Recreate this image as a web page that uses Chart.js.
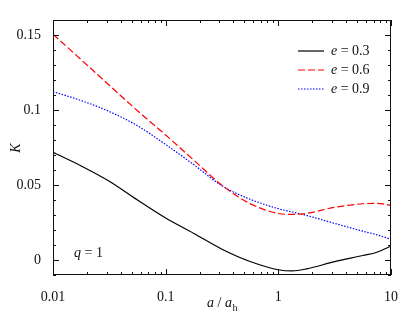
<!DOCTYPE html>
<html>
<head>
<meta charset="utf-8">
<script src="https://cdn.jsdelivr.net/npm/chart.js"></script>
<style>
  html, body { margin: 0; padding: 0; background: #fff; }
  #wrap { width: 407px; height: 317px; }
</style>
</head>
<body>
<div id="wrap"><canvas id="chart" width="407" height="317"></canvas></div>
<script>
// semi-major axis ratio a / a_h (log axis)
const aRatio = [0.01, 0.0178, 0.0316, 0.0562, 0.1, 0.178, 0.316, 0.562, 1, 1.33, 1.78, 3.16, 5.62, 7.5, 10];

// K for each eccentricity
const kE03 = [0.0718, 0.0627, 0.0525, 0.0400, 0.0280, 0.0177, 0.0072, -0.0010, -0.0065, -0.0073, -0.0059, -0.0011, 0.0030, 0.0052, 0.0092];
const kE06 = [0.1505, 0.1335, 0.1165, 0.0995, 0.0833, 0.0665, 0.0498, 0.0376, 0.0310, 0.0304, 0.0311, 0.0351, 0.0375, 0.0378, 0.0364];
const kE09 = [0.1122, 0.1063, 0.0990, 0.0895, 0.0770, 0.0635, 0.0495, 0.0405, 0.0342, 0.0320, 0.0297, 0.0244, 0.0192, 0.0168, 0.0138];

const seriesLabels = ["0.3", "0.6", "0.9"];
const xTicks = [0.01, 0.1, 1, 10];
const xTickLabels = ["0.01", "0.1", "1", "10"];
const yTicks = [0, 0.05, 0.1, 0.15];
const yTickLabels = ["0", "0.05", "0.1", "0.15"];

const serif = "'Liberation Serif', 'DejaVu Serif', serif";

function pts(ys) {
  return aRatio.map((x, i) => ({ x: x, y: ys[i] }));
}

// frame, inward ticks, legend and annotations
const decorations = {
  id: "decorations",
  afterDraw(chart) {
    const ctx = chart.ctx;
    const a = chart.chartArea;
    const xs = chart.scales.x, ys = chart.scales.y;
    ctx.save();
    ctx.strokeStyle = "#111";
    ctx.lineWidth = 1;
    ctx.strokeRect(Math.round(a.left) + 0.5, Math.round(a.top) + 0.5,
      Math.round(a.right - a.left) - 1, Math.round(a.bottom - a.top) - 1);

    ctx.beginPath();
    // x ticks, major and minor
    for (let d = 0.01; d < 10.5; d *= 10) {
      for (let m = 1; m < 10; m++) {
        const v = d * m;
        if (v > 10.0001) break;
        const px = Math.round(xs.getPixelForValue(v)) + 0.5;
        const len = m === 1 ? 6 : 3;
        ctx.moveTo(px, a.bottom); ctx.lineTo(px, a.bottom - len);
        ctx.moveTo(px, a.top); ctx.lineTo(px, a.top + len);
      }
    }
    // y ticks
    for (let i = -1; i <= 16; i++) {
      const v = i / 100;
      const py = Math.round(ys.getPixelForValue(v)) + 0.5;
      const len = i % 5 === 0 ? 6 : 3;
      ctx.moveTo(a.left, py); ctx.lineTo(a.left + len, py);
      ctx.moveTo(a.right, py); ctx.lineTo(a.right - len, py);
    }
    ctx.stroke();

    // legend
    ctx.textBaseline = "middle";
    chart.data.datasets.forEach((ds, i) => {
      const y = 51 + i * 19;
      ctx.beginPath();
      ctx.strokeStyle = ds.borderColor;
      ctx.lineWidth = ds.borderWidth;
      ctx.setLineDash(ds.borderDash || []);
      ctx.moveTo(298, y); ctx.lineTo(324, y);
      ctx.stroke();
      ctx.setLineDash([]);
      ctx.fillStyle = "#111";
      ctx.font = "italic 14px " + serif;
      ctx.fillText("e", 331, y);
      const w = ctx.measureText("e").width;
      ctx.font = "14px " + serif;
      ctx.fillText(" = " + seriesLabels[i], 331 + w, y);
    });

    // q = 1
    ctx.font = "italic 14px " + serif;
    ctx.fillText("q", 74, 253);
    let w = ctx.measureText("q").width;
    ctx.font = "14px " + serif;
    ctx.fillText(" = 1", 74 + w, 253);

    // x title: a / a_h
    ctx.textBaseline = "alphabetic";
    let x0 = 207;
    ctx.font = "italic 14px " + serif;
    ctx.fillText("a", x0, 307);
    x0 += ctx.measureText("a").width;
    ctx.font = "14px " + serif;
    ctx.fillText(" / ", x0, 307);
    x0 += ctx.measureText(" / ").width;
    ctx.font = "italic 14px " + serif;
    ctx.fillText("a", x0, 307);
    x0 += ctx.measureText("a").width;
    ctx.font = "10px " + serif;
    ctx.fillText("h", x0 + 0.5, 311);

    // y title: K
    ctx.translate(16, 148);
    ctx.rotate(-Math.PI / 2);
    ctx.textAlign = "center";
    ctx.textBaseline = "middle";
    ctx.font = "italic 14px " + serif;
    ctx.fillText("K", 0, 0);
    ctx.restore();
  }
};

new Chart(document.getElementById("chart"), {
  type: "line",
  data: {
    datasets: [
      { label: "e = 0.3", data: pts(kE03), borderColor: "#000000", borderWidth: 1.2, cubicInterpolationMode: "monotone" },
      { label: "e = 0.6", data: pts(kE06), borderColor: "#ff0000", borderWidth: 1.2, borderDash: [7, 3], cubicInterpolationMode: "monotone" },
      { label: "e = 0.9", data: pts(kE09), borderColor: "#0000ff", borderWidth: 1.2, borderDash: [1.5, 1.5], cubicInterpolationMode: "monotone" }
    ]
  },
  options: {
    responsive: false,
    animation: false,
    devicePixelRatio: 1,
    layout: { padding: { top: 20, right: 16, bottom: 0, left: 0 } },
    elements: { point: { radius: 0 } },
    plugins: { legend: { display: false }, tooltip: { enabled: false } },
    scales: {
      x: {
        type: "logarithmic",
        min: 0.01,
        max: 10,
        grid: { display: false },
        border: { display: false },
        afterBuildTicks(scale) { scale.ticks = xTicks.map(v => ({ value: v })); },
        afterFit(scale) { scale.height = 42; },
        ticks: {
          padding: 6,
          color: "#111",
          font: { family: serif, size: 14 },
          maxRotation: 0,
          callback: (v, i) => xTickLabels[i]
        }
      },
      y: {
        min: -0.01,
        max: 0.16,
        grid: { display: false },
        border: { display: false },
        afterBuildTicks(scale) { scale.ticks = yTicks.map(v => ({ value: v })); },
        afterFit(scale) { scale.width = 53; },
        ticks: {
          padding: 4,
          color: "#111",
          font: { family: serif, size: 14 },
          callback: (v, i) => yTickLabels[i]
        }
      }
    }
  },
  plugins: [decorations]
});
</script>
</body>
</html>
